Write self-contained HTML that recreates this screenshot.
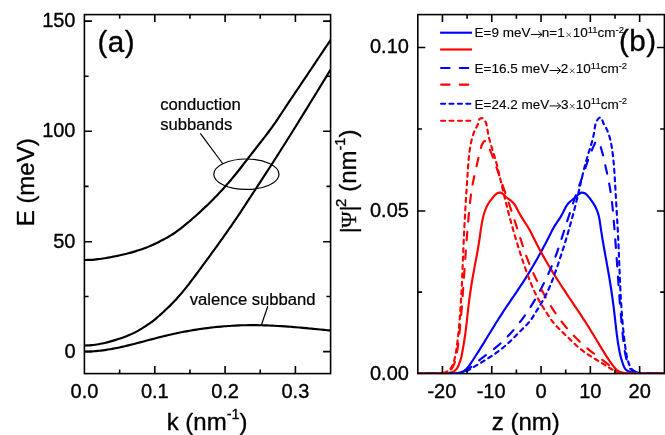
<!DOCTYPE html>
<html><head><meta charset="utf-8"><title>figure</title>
<style>
html,body{margin:0;padding:0;background:#fff;}
body{width:665px;height:435px;overflow:hidden;font-family:"Liberation Sans",sans-serif;}
svg{display:block;will-change:transform;}
text{stroke:#000;stroke-width:0.35px;stroke-linejoin:round;}
text.lg{stroke-width:0.12px;}
text.an{stroke-width:0.22px;}
</style></head><body>
<svg width="665" height="435" viewBox="0 0 665 435">
<rect width="665" height="435" fill="#fff"/>
<g id="pa">
<clipPath id="ca"><rect x="84.40" y="14.60" width="246.20" height="359.00"/></clipPath>
<path d="M15.42,244.66 C15.96,244.88 17.60,245.55 18.69,245.98 C19.79,246.41 20.89,246.84 21.99,247.25 C23.09,247.66 24.20,248.07 25.30,248.46 C26.41,248.86 27.52,249.24 28.64,249.62 C29.75,249.99 30.87,250.36 31.99,250.71 C33.11,251.07 34.24,251.42 35.36,251.76 C36.49,252.09 37.62,252.42 38.75,252.74 C39.88,253.06 41.02,253.37 42.15,253.66 C43.29,253.96 44.43,254.25 45.57,254.53 C46.72,254.81 47.86,255.08 49.01,255.34 C50.15,255.60 51.30,255.85 52.46,256.09 C53.61,256.34 54.76,256.57 55.92,256.79 C57.07,257.01 58.23,257.22 59.39,257.42 C60.55,257.62 61.71,257.82 62.88,258.00 C64.04,258.18 65.21,258.35 66.37,258.51 C67.54,258.68 68.71,258.83 69.88,258.97 C71.05,259.11 72.22,259.23 73.39,259.35 C74.57,259.46 75.74,259.56 76.91,259.64 C78.09,259.72 79.26,259.79 80.43,259.85 C81.61,259.90 82.78,259.93 83.96,259.95 C85.13,259.96 86.30,259.96 87.48,259.94 C88.65,259.92 89.82,259.88 91.00,259.81 C92.17,259.75 93.34,259.67 94.51,259.56 C95.68,259.46 96.84,259.33 98.01,259.19 C99.18,259.06 100.35,258.90 101.51,258.73 C102.68,258.56 103.84,258.38 105.00,258.19 C106.17,257.99 107.33,257.79 108.49,257.58 C109.65,257.37 110.81,257.15 111.97,256.93 C113.12,256.71 114.28,256.48 115.44,256.24 C116.59,256.00 117.75,255.76 118.90,255.51 C120.05,255.26 121.20,255.01 122.35,254.74 C123.49,254.47 124.64,254.20 125.78,253.92 C126.92,253.63 128.06,253.34 129.20,253.04 C130.33,252.74 131.47,252.43 132.60,252.10 C133.73,251.78 134.85,251.45 135.98,251.10 C137.10,250.76 138.22,250.40 139.33,250.04 C140.45,249.67 141.56,249.29 142.66,248.89 C143.77,248.50 144.87,248.10 145.97,247.68 C147.07,247.26 148.16,246.82 149.24,246.37 C150.33,245.93 151.41,245.46 152.49,244.99 C153.56,244.51 154.63,244.01 155.70,243.51 C156.76,243.00 157.82,242.48 158.88,241.94 C159.93,241.41 160.98,240.87 162.02,240.32 C163.06,239.77 164.10,239.21 165.13,238.65 C166.17,238.09 167.20,237.53 168.21,236.95 C169.23,236.37 170.25,235.78 171.24,235.17 C172.24,234.55 173.22,233.90 174.20,233.24 C175.17,232.58 176.12,231.88 177.08,231.19 C178.03,230.49 178.97,229.78 179.90,229.06 C180.84,228.35 181.77,227.62 182.69,226.89 C183.61,226.16 184.53,225.42 185.44,224.68 C186.35,223.93 187.25,223.18 188.15,222.43 C189.05,221.67 189.94,220.91 190.83,220.14 C191.72,219.37 192.61,218.60 193.49,217.82 C194.37,217.04 195.25,216.26 196.13,215.48 C197.00,214.69 197.87,213.90 198.74,213.11 C199.61,212.32 200.48,211.52 201.34,210.73 C202.21,209.93 203.07,209.12 203.92,208.32 C204.78,207.51 205.64,206.70 206.49,205.88 C207.34,205.07 208.18,204.25 209.02,203.43 C209.87,202.60 210.71,201.78 211.54,200.95 C212.38,200.12 213.21,199.28 214.03,198.44 C214.86,197.61 215.68,196.76 216.50,195.92 C217.32,195.07 218.13,194.22 218.94,193.36 C219.75,192.51 220.55,191.65 221.35,190.79 C222.15,189.92 222.95,189.05 223.74,188.18 C224.53,187.31 225.31,186.43 226.09,185.55 C226.87,184.67 227.65,183.79 228.42,182.90 C229.19,182.01 229.95,181.11 230.71,180.21 C231.47,179.32 232.22,178.41 232.97,177.51 C233.72,176.60 234.46,175.69 235.20,174.77 C235.94,173.86 236.68,172.94 237.41,172.02 C238.14,171.10 238.87,170.18 239.60,169.25 C240.33,168.33 241.05,167.40 241.77,166.47 C242.50,165.55 243.22,164.62 243.94,163.69 C244.66,162.76 245.38,161.83 246.10,160.89 C246.82,159.96 247.54,159.03 248.26,158.10 C248.98,157.17 249.71,156.24 250.43,155.31 C251.15,154.39 251.88,153.46 252.60,152.53 C253.33,151.60 254.05,150.67 254.78,149.75 C255.50,148.82 256.23,147.89 256.95,146.96 C257.67,146.04 258.40,145.11 259.12,144.18 C259.84,143.25 260.57,142.32 261.29,141.39 C262.01,140.46 262.73,139.53 263.45,138.60 C264.16,137.66 264.88,136.73 265.59,135.80 C266.31,134.86 267.02,133.92 267.73,132.98 C268.43,132.05 269.14,131.10 269.84,130.16 C270.54,129.21 271.23,128.27 271.92,127.31 C272.61,126.36 273.30,125.41 273.98,124.45 C274.66,123.49 275.33,122.52 275.99,121.55 C276.66,120.58 277.32,119.60 277.97,118.63 C278.63,117.65 279.28,116.67 279.93,115.68 C280.57,114.70 281.22,113.72 281.86,112.73 C282.51,111.75 283.15,110.76 283.80,109.77 C284.44,108.79 285.09,107.80 285.73,106.82 C286.38,105.84 287.03,104.86 287.68,103.88 C288.34,102.90 288.99,101.92 289.65,100.94 C290.30,99.96 290.96,98.98 291.61,98.01 C292.27,97.03 292.93,96.06 293.59,95.08 C294.25,94.11 294.91,93.13 295.57,92.16 C296.23,91.18 296.89,90.21 297.55,89.24 C298.21,88.26 298.87,87.29 299.53,86.31 C300.18,85.34 300.84,84.36 301.50,83.39 C302.16,82.41 302.82,81.43 303.47,80.46 C304.13,79.48 304.79,78.50 305.44,77.53 C306.10,76.55 306.75,75.57 307.41,74.59 C308.06,73.62 308.72,72.64 309.37,71.66 C310.03,70.68 310.68,69.70 311.34,68.73 C311.99,67.75 312.65,66.77 313.30,65.79 C313.95,64.81 314.61,63.83 315.26,62.86 C315.92,61.88 316.57,60.90 317.23,59.92 C317.88,58.94 318.53,57.96 319.19,56.99 C319.84,56.01 320.50,55.03 321.15,54.05 C321.81,53.07 322.46,52.10 323.12,51.12 C323.77,50.14 324.43,49.16 325.09,48.19 C325.74,47.21 326.40,46.23 327.06,45.26 C327.72,44.28 328.37,43.31 329.03,42.33 C329.69,41.36 330.68,39.89 331.01,39.41" fill="none" stroke="#000" stroke-width="2.15" clip-path="url(#ca)"/>
<path d="M15.40,320.80 C15.91,321.11 17.42,322.02 18.42,322.66 C19.42,323.30 20.40,323.96 21.38,324.62 C22.37,325.28 23.35,325.96 24.33,326.61 C25.32,327.27 26.30,327.94 27.30,328.57 C28.30,329.21 29.30,329.83 30.32,330.42 C31.34,331.02 32.37,331.59 33.42,332.14 C34.46,332.68 35.53,333.19 36.60,333.69 C37.67,334.18 38.76,334.64 39.85,335.10 C40.94,335.56 42.04,336.00 43.14,336.42 C44.24,336.85 45.35,337.27 46.46,337.67 C47.58,338.07 48.69,338.46 49.82,338.83 C50.94,339.21 52.07,339.57 53.20,339.92 C54.33,340.27 55.46,340.60 56.60,340.93 C57.74,341.25 58.88,341.56 60.03,341.86 C61.17,342.16 62.32,342.45 63.47,342.72 C64.63,343.00 65.78,343.26 66.94,343.51 C68.09,343.76 69.25,343.99 70.42,344.20 C71.58,344.42 72.75,344.61 73.92,344.78 C75.08,344.95 76.26,345.09 77.43,345.20 C78.61,345.32 79.79,345.40 80.97,345.46 C82.15,345.51 83.33,345.54 84.52,345.53 C85.70,345.53 86.88,345.50 88.06,345.44 C89.25,345.38 90.43,345.30 91.60,345.18 C92.78,345.07 93.95,344.93 95.12,344.77 C96.30,344.60 97.46,344.41 98.63,344.21 C99.79,344.00 100.95,343.77 102.11,343.52 C103.27,343.28 104.42,343.01 105.57,342.73 C106.72,342.46 107.87,342.16 109.01,341.85 C110.16,341.55 111.30,341.23 112.44,340.90 C113.57,340.58 114.71,340.24 115.84,339.89 C116.97,339.54 118.09,339.18 119.21,338.81 C120.34,338.43 121.45,338.05 122.57,337.65 C123.68,337.25 124.79,336.84 125.89,336.41 C126.99,335.99 128.09,335.55 129.18,335.09 C130.27,334.63 131.35,334.15 132.42,333.65 C133.49,333.15 134.55,332.63 135.60,332.09 C136.65,331.55 137.69,330.98 138.72,330.40 C139.74,329.81 140.76,329.21 141.77,328.59 C142.78,327.97 143.78,327.33 144.77,326.69 C145.77,326.04 146.75,325.38 147.73,324.72 C148.71,324.05 149.68,323.38 150.64,322.69 C151.59,321.99 152.54,321.29 153.47,320.57 C154.40,319.84 155.31,319.09 156.22,318.33 C157.12,317.58 158.01,316.80 158.90,316.02 C159.79,315.24 160.67,314.45 161.55,313.66 C162.43,312.87 163.31,312.07 164.18,311.27 C165.05,310.47 165.91,309.66 166.77,308.84 C167.63,308.02 168.48,307.20 169.33,306.37 C170.17,305.54 171.01,304.70 171.84,303.86 C172.67,303.01 173.49,302.16 174.30,301.30 C175.11,300.44 175.91,299.57 176.71,298.70 C177.50,297.82 178.29,296.94 179.07,296.05 C179.85,295.16 180.62,294.26 181.39,293.36 C182.15,292.46 182.91,291.55 183.66,290.64 C184.41,289.72 185.15,288.80 185.89,287.88 C186.63,286.95 187.36,286.02 188.09,285.09 C188.81,284.15 189.53,283.21 190.25,282.27 C190.97,281.33 191.68,280.39 192.40,279.44 C193.11,278.50 193.82,277.55 194.52,276.60 C195.23,275.65 195.93,274.70 196.64,273.74 C197.34,272.79 198.05,271.84 198.75,270.89 C199.45,269.94 200.16,268.98 200.86,268.03 C201.56,267.08 202.26,266.13 202.97,265.17 C203.67,264.22 204.37,263.27 205.07,262.31 C205.77,261.36 206.47,260.40 207.17,259.45 C207.87,258.49 208.57,257.54 209.27,256.58 C209.96,255.63 210.66,254.67 211.36,253.72 C212.05,252.76 212.75,251.80 213.45,250.84 C214.14,249.89 214.84,248.93 215.53,247.97 C216.22,247.01 216.92,246.05 217.61,245.09 C218.30,244.13 219.00,243.17 219.69,242.21 C220.38,241.25 221.07,240.29 221.76,239.33 C222.44,238.36 223.13,237.40 223.82,236.44 C224.50,235.47 225.19,234.51 225.87,233.54 C226.56,232.57 227.24,231.61 227.92,230.64 C228.60,229.67 229.28,228.70 229.95,227.73 C230.63,226.76 231.30,225.78 231.97,224.81 C232.65,223.83 233.32,222.86 233.98,221.88 C234.65,220.90 235.32,219.93 235.98,218.95 C236.64,217.97 237.30,216.98 237.96,216.00 C238.62,215.02 239.28,214.03 239.93,213.05 C240.59,212.06 241.24,211.07 241.89,210.09 C242.54,209.10 243.19,208.11 243.84,207.12 C244.49,206.13 245.14,205.14 245.79,204.15 C246.44,203.16 247.08,202.17 247.73,201.18 C248.38,200.19 249.02,199.19 249.67,198.20 C250.32,197.21 250.96,196.22 251.61,195.23 C252.25,194.24 252.90,193.24 253.55,192.25 C254.19,191.26 254.84,190.27 255.49,189.28 C256.14,188.29 256.79,187.30 257.43,186.31 C258.08,185.32 258.73,184.33 259.38,183.34 C260.03,182.35 260.67,181.36 261.32,180.37 C261.97,179.38 262.62,178.39 263.26,177.39 C263.91,176.40 264.56,175.41 265.20,174.42 C265.85,173.43 266.50,172.44 267.14,171.44 C267.78,170.45 268.43,169.46 269.07,168.46 C269.71,167.47 270.36,166.48 271.00,165.48 C271.64,164.49 272.28,163.49 272.92,162.50 C273.56,161.50 274.20,160.50 274.83,159.51 C275.47,158.51 276.11,157.51 276.75,156.51 C277.38,155.52 278.02,154.52 278.65,153.52 C279.29,152.52 279.92,151.52 280.56,150.52 C281.19,149.52 281.82,148.52 282.46,147.52 C283.09,146.52 283.72,145.52 284.35,144.52 C284.98,143.52 285.61,142.52 286.24,141.52 C286.87,140.51 287.50,139.51 288.13,138.51 C288.76,137.51 289.39,136.50 290.02,135.50 C290.65,134.50 291.27,133.49 291.90,132.49 C292.53,131.49 293.15,130.48 293.78,129.48 C294.40,128.47 295.03,127.47 295.66,126.46 C296.28,125.46 296.90,124.45 297.53,123.45 C298.15,122.44 298.78,121.44 299.40,120.43 C300.02,119.42 300.65,118.42 301.27,117.41 C301.89,116.40 302.51,115.40 303.14,114.39 C303.76,113.38 304.38,112.38 305.00,111.37 C305.62,110.36 306.24,109.35 306.86,108.35 C307.48,107.34 308.10,106.33 308.72,105.32 C309.34,104.31 309.96,103.31 310.58,102.30 C311.20,101.29 311.82,100.28 312.44,99.27 C313.06,98.26 313.68,97.25 314.30,96.25 C314.92,95.24 315.54,94.23 316.16,93.22 C316.78,92.21 317.40,91.20 318.01,90.19 C318.63,89.18 319.25,88.17 319.87,87.16 C320.49,86.16 321.11,85.15 321.72,84.14 C322.34,83.13 322.96,82.12 323.58,81.11 C324.20,80.10 324.82,79.09 325.43,78.08 C326.05,77.07 326.67,76.06 327.29,75.05 C327.91,74.05 328.53,73.04 329.14,72.03 C329.76,71.02 330.69,69.50 331.00,69.00" fill="none" stroke="#000" stroke-width="2.15" clip-path="url(#ca)"/>
<path d="M15.45,338.85 C16.02,338.99 17.72,339.42 18.86,339.72 C20.00,340.01 21.14,340.31 22.28,340.61 C23.42,340.91 24.56,341.21 25.70,341.51 C26.85,341.81 27.99,342.12 29.14,342.42 C30.28,342.72 31.43,343.02 32.57,343.32 C33.72,343.62 34.87,343.92 36.02,344.22 C37.17,344.51 38.32,344.80 39.48,345.09 C40.63,345.37 41.78,345.66 42.94,345.93 C44.10,346.21 45.25,346.48 46.41,346.74 C47.57,347.00 48.73,347.26 49.90,347.50 C51.06,347.75 52.22,347.99 53.39,348.21 C54.56,348.44 55.72,348.66 56.89,348.86 C58.06,349.07 59.23,349.27 60.40,349.45 C61.58,349.64 62.75,349.81 63.92,349.98 C65.10,350.14 66.27,350.29 67.45,350.43 C68.62,350.57 69.80,350.69 70.98,350.81 C72.16,350.92 73.33,351.02 74.51,351.11 C75.69,351.19 76.87,351.27 78.05,351.33 C79.23,351.39 80.41,351.43 81.58,351.46 C82.76,351.49 83.94,351.51 85.12,351.51 C86.30,351.51 87.48,351.49 88.66,351.46 C89.83,351.43 91.01,351.38 92.19,351.32 C93.37,351.25 94.54,351.17 95.72,351.08 C96.89,350.98 98.07,350.87 99.24,350.75 C100.42,350.63 101.59,350.49 102.76,350.34 C103.93,350.18 105.10,350.02 106.27,349.84 C107.45,349.67 108.61,349.48 109.78,349.28 C110.95,349.08 112.12,348.87 113.28,348.66 C114.45,348.44 115.62,348.21 116.78,347.97 C117.94,347.74 119.11,347.49 120.27,347.24 C121.43,346.98 122.59,346.72 123.75,346.46 C124.90,346.19 126.06,345.92 127.22,345.64 C128.37,345.36 129.52,345.08 130.68,344.79 C131.83,344.51 132.98,344.22 134.13,343.92 C135.28,343.63 136.43,343.33 137.58,343.03 C138.72,342.73 139.87,342.43 141.02,342.13 C142.16,341.82 143.31,341.52 144.45,341.21 C145.60,340.91 146.74,340.60 147.89,340.29 C149.03,339.99 150.18,339.68 151.32,339.38 C152.47,339.08 153.61,338.77 154.76,338.47 C155.90,338.17 157.05,337.87 158.20,337.58 C159.34,337.29 160.49,336.99 161.64,336.70 C162.79,336.42 163.94,336.13 165.09,335.85 C166.24,335.58 167.39,335.30 168.54,335.03 C169.69,334.76 170.85,334.50 172.00,334.24 C173.16,333.98 174.32,333.73 175.47,333.48 C176.63,333.23 177.79,332.99 178.95,332.75 C180.11,332.52 181.27,332.28 182.43,332.06 C183.60,331.83 184.76,331.61 185.92,331.39 C187.09,331.18 188.25,330.97 189.42,330.76 C190.59,330.56 191.75,330.36 192.92,330.16 C194.09,329.97 195.26,329.78 196.43,329.59 C197.60,329.41 198.77,329.23 199.94,329.06 C201.11,328.89 202.29,328.72 203.46,328.56 C204.63,328.40 205.81,328.24 206.98,328.09 C208.15,327.94 209.33,327.79 210.51,327.65 C211.68,327.52 212.86,327.38 214.04,327.25 C215.21,327.13 216.39,327.00 217.57,326.89 C218.75,326.77 219.93,326.66 221.11,326.56 C222.28,326.45 223.46,326.35 224.64,326.26 C225.82,326.16 227.01,326.08 228.19,326.00 C229.37,325.91 230.55,325.84 231.73,325.77 C232.91,325.70 234.09,325.63 235.28,325.58 C236.46,325.52 237.64,325.46 238.83,325.42 C240.01,325.37 241.19,325.33 242.37,325.30 C243.56,325.26 244.74,325.23 245.93,325.21 C247.11,325.19 248.29,325.17 249.48,325.16 C250.66,325.15 251.85,325.15 253.03,325.15 C254.21,325.15 255.40,325.16 256.58,325.17 C257.77,325.19 258.95,325.21 260.13,325.23 C261.32,325.25 262.50,325.28 263.69,325.32 C264.87,325.35 266.05,325.39 267.24,325.44 C268.42,325.48 269.61,325.53 270.79,325.58 C271.97,325.63 273.16,325.69 274.34,325.75 C275.53,325.81 276.71,325.88 277.89,325.95 C279.08,326.02 280.26,326.09 281.44,326.16 C282.63,326.24 283.81,326.32 284.99,326.40 C286.18,326.49 287.36,326.57 288.54,326.66 C289.72,326.75 290.91,326.84 292.09,326.93 C293.27,327.03 294.45,327.12 295.63,327.22 C296.82,327.32 298.00,327.42 299.18,327.52 C300.36,327.63 301.54,327.73 302.72,327.84 C303.90,327.94 305.08,328.05 306.26,328.16 C307.44,328.27 308.62,328.38 309.80,328.49 C310.98,328.60 312.16,328.72 313.34,328.83 C314.52,328.94 315.69,329.06 316.87,329.17 C318.05,329.28 319.23,329.40 320.40,329.51 C321.58,329.63 322.76,329.74 323.93,329.86 C325.11,329.97 326.28,330.08 327.46,330.20 C328.64,330.31 330.40,330.48 330.98,330.54" fill="none" stroke="#000" stroke-width="2.15" clip-path="url(#ca)"/>
<ellipse cx="246.4" cy="174.2" rx="32.6" ry="15.2" fill="none" stroke="#000" stroke-width="1.2"/>
<path d="M200.3,133.3 L223.0,164.0" stroke="#000" stroke-width="1.2" fill="none"/>
<path d="M267.8,306.2 L261.3,325.2" stroke="#000" stroke-width="1.2" fill="none"/>
<path d="M154.80,373.60 v-7.50 M154.80,14.60 v7.50" stroke="#000" stroke-width="1.60" fill="none"/>
<path d="M225.10,373.60 v-7.50 M225.10,14.60 v7.50" stroke="#000" stroke-width="1.60" fill="none"/>
<path d="M295.40,373.60 v-7.50 M295.40,14.60 v7.50" stroke="#000" stroke-width="1.60" fill="none"/>
<path d="M119.65,373.60 v-4.20 M119.65,14.60 v4.20" stroke="#000" stroke-width="1.60" fill="none"/>
<path d="M189.95,373.60 v-4.20 M189.95,14.60 v4.20" stroke="#000" stroke-width="1.60" fill="none"/>
<path d="M260.25,373.60 v-4.20 M260.25,14.60 v4.20" stroke="#000" stroke-width="1.60" fill="none"/>
<path d="M84.40,351.60 h7.50 M330.60,351.60 h-7.50" stroke="#000" stroke-width="1.60" fill="none"/>
<path d="M84.40,241.75 h7.50 M330.60,241.75 h-7.50" stroke="#000" stroke-width="1.60" fill="none"/>
<path d="M84.40,131.30 h7.50 M330.60,131.30 h-7.50" stroke="#000" stroke-width="1.60" fill="none"/>
<path d="M84.40,21.15 h7.50 M330.60,21.15 h-7.50" stroke="#000" stroke-width="1.60" fill="none"/>
<path d="M84.40,296.53 h4.20 M330.60,296.53 h-4.20" stroke="#000" stroke-width="1.60" fill="none"/>
<path d="M84.40,186.38 h4.20 M330.60,186.38 h-4.20" stroke="#000" stroke-width="1.60" fill="none"/>
<path d="M84.40,76.23 h4.20 M330.60,76.23 h-4.20" stroke="#000" stroke-width="1.60" fill="none"/>
<rect x="84.40" y="14.60" width="246.20" height="359.00" fill="none" stroke="#000" stroke-width="1.60"/>
<text x="84.50" y="398.3" text-anchor="middle" font-family="Liberation Sans, sans-serif" font-size="20">0.0</text>
<text x="154.80" y="398.3" text-anchor="middle" font-family="Liberation Sans, sans-serif" font-size="20">0.1</text>
<text x="225.10" y="398.3" text-anchor="middle" font-family="Liberation Sans, sans-serif" font-size="20">0.2</text>
<text x="295.40" y="398.3" text-anchor="middle" font-family="Liberation Sans, sans-serif" font-size="20">0.3</text>
<text x="75.5" y="357.80" text-anchor="end" font-family="Liberation Sans, sans-serif" font-size="20">0</text>
<text x="75.5" y="247.75" text-anchor="end" font-family="Liberation Sans, sans-serif" font-size="20">50</text>
<text x="75.5" y="136.90" text-anchor="end" font-family="Liberation Sans, sans-serif" font-size="20">100</text>
<text x="75.5" y="26.95" text-anchor="end" font-family="Liberation Sans, sans-serif" font-size="20">150</text>
<text x="166.7" y="430.3" font-family="Liberation Sans, sans-serif" font-size="24">k (nm<tspan dy="-11" font-size="14.5">-1</tspan><tspan dy="11">)</tspan></text>
<text transform="translate(34.2,182.3) rotate(-90)" text-anchor="middle" font-family="Liberation Sans, sans-serif" font-size="24">E (meV)</text>
<text x="160.2" y="109.8" font-family="Liberation Sans, sans-serif" font-size="16.65" class="an">conduction</text>
<text x="160.2" y="129.5" font-family="Liberation Sans, sans-serif" font-size="16.65" class="an">subbands</text>
<text x="189.8" y="304.7" font-family="Liberation Sans, sans-serif" font-size="16.65" class="an">valence subband</text>
<text x="97.5" y="52" font-family="Liberation Sans, sans-serif" font-size="29.6" letter-spacing="0.5">(a)</text>
</g>
<g id="pb">
<clipPath id="cb"><rect x="417.80" y="14.60" width="246.60" height="358.55"/></clipPath>
<path d="M418.00,373.50 C418.59,373.50 420.35,373.52 421.53,373.52 C422.70,373.52 423.88,373.51 425.06,373.51 C426.23,373.50 427.41,373.49 428.59,373.48 C429.77,373.46 430.94,373.45 432.12,373.44 C433.30,373.43 434.48,373.42 435.65,373.41 C436.83,373.41 438.01,373.40 439.19,373.40 C440.36,373.40 441.54,373.41 442.71,373.42 C443.89,373.43 445.06,373.45 446.24,373.46 C447.41,373.47 448.59,373.48 449.76,373.46 C450.94,373.44 452.11,373.41 453.29,373.34 C454.47,373.28 455.65,373.20 456.83,373.05 C458.00,372.91 459.22,372.78 460.35,372.48 C461.48,372.19 462.61,371.83 463.61,371.26 C464.61,370.69 465.51,369.90 466.36,369.07 C467.20,368.25 467.95,367.26 468.68,366.31 C469.42,365.37 470.08,364.38 470.74,363.40 C471.41,362.43 472.03,361.45 472.67,360.46 C473.31,359.48 473.94,358.49 474.58,357.51 C475.21,356.52 475.85,355.53 476.48,354.54 C477.11,353.55 477.74,352.56 478.37,351.56 C479.00,350.57 479.63,349.57 480.26,348.57 C480.88,347.58 481.51,346.58 482.13,345.58 C482.75,344.58 483.37,343.58 483.99,342.57 C484.60,341.57 485.22,340.57 485.84,339.56 C486.45,338.56 487.06,337.56 487.68,336.55 C488.29,335.55 488.91,334.54 489.52,333.54 C490.13,332.53 490.75,331.53 491.36,330.53 C491.98,329.52 492.59,328.52 493.21,327.52 C493.82,326.52 494.44,325.52 495.06,324.52 C495.68,323.52 496.30,322.52 496.93,321.52 C497.55,320.52 498.18,319.53 498.81,318.53 C499.44,317.54 500.07,316.55 500.71,315.56 C501.34,314.57 501.98,313.58 502.63,312.60 C503.27,311.62 503.92,310.63 504.57,309.66 C505.22,308.68 505.88,307.70 506.54,306.72 C507.19,305.75 507.85,304.77 508.51,303.80 C509.17,302.82 509.84,301.85 510.50,300.88 C511.16,299.91 511.83,298.94 512.49,297.96 C513.15,296.99 513.82,296.02 514.48,295.05 C515.14,294.07 515.80,293.10 516.46,292.12 C517.12,291.15 517.78,290.17 518.43,289.20 C519.09,288.22 519.74,287.24 520.39,286.26 C521.04,285.27 521.68,284.29 522.32,283.30 C522.96,282.31 523.60,281.32 524.23,280.33 C524.86,279.34 525.49,278.35 526.12,277.35 C526.74,276.35 527.37,275.35 527.98,274.35 C528.60,273.35 529.22,272.35 529.83,271.34 C530.44,270.34 531.04,269.33 531.65,268.32 C532.25,267.31 532.85,266.29 533.45,265.28 C534.04,264.26 534.63,263.25 535.22,262.23 C535.81,261.21 536.39,260.19 536.97,259.16 C537.55,258.14 538.13,257.11 538.70,256.09 C539.28,255.06 539.84,254.03 540.41,253.00 C540.98,251.97 541.54,250.93 542.09,249.90 C542.65,248.86 543.21,247.82 543.76,246.78 C544.31,245.75 544.86,244.70 545.40,243.66 C545.95,242.62 546.49,241.57 547.03,240.53 C547.57,239.48 548.11,238.44 548.64,237.39 C549.18,236.34 549.71,235.29 550.25,234.24 C550.78,233.19 551.30,232.13 551.84,231.09 C552.38,230.04 552.92,229.00 553.49,227.97 C554.07,226.94 554.66,225.93 555.28,224.93 C555.90,223.94 556.58,222.97 557.24,221.99 C557.90,221.02 558.59,220.06 559.23,219.08 C559.88,218.09 560.52,217.11 561.11,216.10 C561.71,215.09 562.28,214.06 562.82,213.01 C563.36,211.96 563.84,210.87 564.36,209.81 C564.89,208.75 565.38,207.66 565.99,206.66 C566.60,205.65 567.26,204.67 568.01,203.77 C568.76,202.87 569.60,202.03 570.46,201.25 C571.33,200.47 572.28,199.82 573.20,199.11 C574.11,198.40 575.06,197.76 575.94,196.97 C576.82,196.18 577.55,195.09 578.48,194.36 C579.40,193.64 580.44,192.82 581.50,192.62 C582.55,192.43 583.82,192.72 584.81,193.20 C585.79,193.68 586.58,194.66 587.40,195.50 C588.22,196.34 588.97,197.32 589.72,198.26 C590.46,199.21 591.19,200.16 591.87,201.14 C592.56,202.12 593.21,203.11 593.83,204.13 C594.44,205.14 595.02,206.17 595.55,207.22 C596.08,208.27 596.58,209.33 597.01,210.41 C597.45,211.50 597.84,212.60 598.18,213.71 C598.52,214.83 598.79,215.96 599.04,217.11 C599.29,218.25 599.49,219.41 599.69,220.57 C599.88,221.73 600.04,222.90 600.21,224.07 C600.38,225.24 600.53,226.41 600.70,227.58 C600.87,228.75 601.04,229.92 601.22,231.08 C601.40,232.25 601.58,233.41 601.77,234.58 C601.95,235.74 602.14,236.91 602.33,238.07 C602.52,239.23 602.72,240.39 602.91,241.55 C603.11,242.71 603.31,243.87 603.51,245.03 C603.72,246.19 603.92,247.35 604.12,248.51 C604.33,249.67 604.54,250.83 604.74,251.98 C604.95,253.14 605.16,254.30 605.37,255.46 C605.58,256.61 605.79,257.77 606.00,258.93 C606.21,260.08 606.42,261.24 606.63,262.40 C606.84,263.55 607.05,264.71 607.25,265.87 C607.46,267.02 607.67,268.18 607.87,269.34 C608.08,270.50 608.28,271.66 608.48,272.81 C608.68,273.97 608.88,275.13 609.08,276.29 C609.28,277.45 609.47,278.61 609.66,279.77 C609.85,280.93 610.04,282.09 610.23,283.26 C610.41,284.42 610.60,285.58 610.78,286.74 C610.96,287.91 611.13,289.07 611.31,290.24 C611.48,291.40 611.65,292.56 611.82,293.73 C611.99,294.89 612.15,296.06 612.32,297.23 C612.48,298.39 612.64,299.56 612.80,300.73 C612.95,301.89 613.11,303.06 613.26,304.23 C613.41,305.39 613.56,306.56 613.71,307.73 C613.85,308.90 614.00,310.06 614.14,311.23 C614.28,312.40 614.42,313.57 614.55,314.74 C614.69,315.90 614.82,317.07 614.95,318.24 C615.08,319.41 615.21,320.58 615.34,321.75 C615.47,322.91 615.60,324.08 615.74,325.25 C615.87,326.42 616.00,327.59 616.14,328.75 C616.27,329.92 616.41,331.09 616.55,332.26 C616.70,333.42 616.84,334.59 617.00,335.76 C617.15,336.92 617.31,338.09 617.47,339.26 C617.64,340.42 617.81,341.59 617.99,342.75 C618.17,343.92 618.35,345.08 618.55,346.25 C618.75,347.41 618.95,348.58 619.18,349.74 C619.40,350.90 619.63,352.05 619.88,353.20 C620.14,354.35 620.40,355.50 620.70,356.63 C620.99,357.76 621.30,358.89 621.64,360.00 C621.97,361.12 622.33,362.20 622.73,363.32 C623.12,364.43 623.47,365.63 624.00,366.68 C624.53,367.74 625.10,368.82 625.90,369.64 C626.70,370.45 627.76,371.05 628.82,371.56 C629.88,372.06 631.10,372.39 632.26,372.67 C633.41,372.95 634.60,373.12 635.77,373.26 C636.94,373.39 638.11,373.44 639.29,373.48 C640.46,373.52 641.64,373.49 642.82,373.48 C644.00,373.46 645.17,373.41 646.35,373.39 C647.53,373.37 648.70,373.36 649.88,373.37 C651.06,373.37 652.23,373.40 653.41,373.43 C654.59,373.45 655.76,373.49 656.94,373.51 C658.12,373.53 659.29,373.56 660.47,373.56 C661.65,373.56 663.41,373.51 664.00,373.50" fill="none" stroke="#0000ff" stroke-width="2.15" clip-path="url(#cb)"/>
<path d="M418.00,373.50 C418.59,373.50 420.35,373.48 421.53,373.48 C422.71,373.47 423.88,373.47 425.06,373.46 C426.24,373.46 427.41,373.46 428.59,373.46 C429.77,373.45 430.94,373.45 432.12,373.45 C433.30,373.45 434.47,373.44 435.65,373.44 C436.83,373.43 438.00,373.43 439.18,373.42 C440.35,373.41 441.53,373.41 442.71,373.38 C443.88,373.35 445.06,373.35 446.23,373.25 C447.41,373.14 448.59,373.02 449.75,372.75 C450.92,372.47 452.15,372.12 453.21,371.60 C454.27,371.07 455.32,370.42 456.10,369.60 C456.89,368.77 457.40,367.69 457.93,366.65 C458.46,365.61 458.84,364.44 459.27,363.34 C459.71,362.24 460.17,361.16 460.52,360.05 C460.88,358.93 461.15,357.79 461.41,356.65 C461.67,355.50 461.86,354.34 462.08,353.18 C462.30,352.02 462.51,350.86 462.72,349.70 C462.93,348.54 463.13,347.38 463.33,346.22 C463.54,345.06 463.73,343.90 463.93,342.74 C464.12,341.58 464.31,340.42 464.48,339.26 C464.66,338.09 464.84,336.93 465.00,335.77 C465.17,334.60 465.33,333.44 465.48,332.27 C465.64,331.10 465.78,329.94 465.93,328.77 C466.07,327.60 466.21,326.43 466.35,325.27 C466.49,324.10 466.62,322.93 466.75,321.76 C466.88,320.59 467.01,319.42 467.14,318.25 C467.27,317.08 467.40,315.91 467.52,314.74 C467.65,313.57 467.78,312.40 467.91,311.23 C468.04,310.06 468.17,308.89 468.30,307.72 C468.44,306.55 468.57,305.38 468.71,304.22 C468.85,303.05 468.99,301.88 469.14,300.71 C469.29,299.55 469.44,298.38 469.60,297.21 C469.76,296.05 469.92,294.88 470.09,293.72 C470.25,292.55 470.42,291.39 470.60,290.23 C470.78,289.06 470.96,287.90 471.14,286.74 C471.32,285.58 471.51,284.42 471.70,283.26 C471.89,282.09 472.09,280.93 472.28,279.77 C472.48,278.61 472.68,277.45 472.89,276.30 C473.09,275.14 473.30,273.98 473.51,272.82 C473.72,271.66 473.93,270.50 474.15,269.35 C474.36,268.19 474.58,267.03 474.80,265.88 C475.01,264.72 475.23,263.56 475.45,262.41 C475.67,261.25 475.89,260.09 476.10,258.93 C476.32,257.78 476.54,256.62 476.75,255.46 C476.96,254.30 477.17,253.15 477.38,251.99 C477.58,250.83 477.79,249.67 477.99,248.51 C478.19,247.35 478.38,246.19 478.57,245.03 C478.76,243.87 478.94,242.71 479.12,241.55 C479.30,240.38 479.47,239.22 479.63,238.05 C479.80,236.89 479.96,235.72 480.12,234.56 C480.28,233.39 480.44,232.23 480.61,231.06 C480.77,229.90 480.94,228.73 481.12,227.57 C481.30,226.41 481.49,225.25 481.69,224.09 C481.90,222.93 482.11,221.77 482.35,220.61 C482.59,219.46 482.84,218.30 483.13,217.16 C483.41,216.01 483.71,214.87 484.05,213.75 C484.39,212.62 484.76,211.50 485.17,210.41 C485.57,209.31 486.02,208.23 486.51,207.17 C487.00,206.11 487.53,205.07 488.11,204.06 C488.70,203.05 489.33,202.06 490.02,201.11 C490.71,200.15 491.48,199.24 492.24,198.31 C492.99,197.39 493.75,196.40 494.57,195.55 C495.39,194.69 496.17,193.65 497.17,193.17 C498.16,192.69 499.51,192.45 500.56,192.65 C501.61,192.84 502.55,193.62 503.46,194.33 C504.37,195.05 505.12,196.13 506.02,196.93 C506.91,197.73 507.90,198.43 508.83,199.15 C509.76,199.88 510.75,200.50 511.61,201.26 C512.47,202.03 513.26,202.84 513.97,203.73 C514.69,204.63 515.29,205.63 515.88,206.64 C516.48,207.66 517.00,208.74 517.55,209.80 C518.10,210.86 518.63,211.95 519.19,212.99 C519.76,214.04 520.36,215.07 520.96,216.08 C521.57,217.10 522.20,218.09 522.83,219.08 C523.46,220.08 524.11,221.06 524.75,222.04 C525.38,223.02 526.03,224.00 526.65,224.99 C527.27,225.98 527.89,226.97 528.49,227.98 C529.08,228.99 529.65,230.01 530.21,231.04 C530.76,232.08 531.29,233.13 531.82,234.18 C532.35,235.24 532.86,236.30 533.38,237.36 C533.90,238.42 534.43,239.47 534.95,240.53 C535.48,241.58 536.02,242.63 536.56,243.68 C537.10,244.73 537.64,245.77 538.19,246.81 C538.74,247.85 539.30,248.89 539.86,249.93 C540.42,250.97 540.98,252.00 541.55,253.03 C542.12,254.06 542.69,255.09 543.27,256.11 C543.85,257.14 544.43,258.16 545.01,259.18 C545.60,260.20 546.19,261.22 546.78,262.23 C547.38,263.25 547.97,264.26 548.57,265.27 C549.17,266.29 549.78,267.29 550.39,268.30 C551.00,269.31 551.61,270.31 552.22,271.32 C552.84,272.32 553.46,273.32 554.08,274.32 C554.70,275.32 555.32,276.31 555.95,277.31 C556.58,278.30 557.21,279.30 557.84,280.29 C558.47,281.28 559.11,282.27 559.74,283.26 C560.38,284.25 561.02,285.24 561.66,286.22 C562.31,287.21 562.95,288.19 563.60,289.17 C564.24,290.16 564.89,291.14 565.54,292.12 C566.19,293.10 566.84,294.08 567.50,295.06 C568.15,296.04 568.81,297.01 569.46,297.99 C570.12,298.97 570.77,299.94 571.43,300.92 C572.09,301.90 572.74,302.87 573.40,303.85 C574.06,304.82 574.72,305.80 575.37,306.78 C576.03,307.75 576.68,308.73 577.34,309.71 C577.99,310.69 578.65,311.66 579.30,312.64 C579.95,313.62 580.60,314.60 581.25,315.59 C581.89,316.57 582.54,317.55 583.18,318.54 C583.82,319.52 584.46,320.51 585.10,321.50 C585.74,322.49 586.37,323.48 587.00,324.48 C587.63,325.47 588.26,326.47 588.88,327.47 C589.50,328.47 590.12,329.47 590.73,330.47 C591.35,331.48 591.96,332.48 592.57,333.49 C593.18,334.50 593.79,335.50 594.40,336.51 C595.01,337.52 595.61,338.53 596.22,339.54 C596.83,340.55 597.43,341.56 598.04,342.57 C598.65,343.57 599.25,344.58 599.86,345.59 C600.47,346.59 601.08,347.60 601.70,348.60 C602.31,349.60 602.93,350.61 603.55,351.60 C604.16,352.60 604.79,353.60 605.41,354.59 C606.04,355.58 606.67,356.57 607.31,357.56 C607.95,358.54 608.60,359.52 609.26,360.49 C609.93,361.47 610.60,362.44 611.30,363.40 C612.00,364.36 612.71,365.32 613.45,366.25 C614.20,367.18 614.95,368.15 615.79,368.97 C616.62,369.80 617.49,370.59 618.45,371.19 C619.41,371.79 620.47,372.22 621.57,372.55 C622.67,372.88 623.86,373.05 625.05,373.18 C626.23,373.31 627.48,373.33 628.69,373.35 C629.91,373.38 631.14,373.35 632.32,373.35 C633.51,373.36 634.66,373.37 635.82,373.38 C636.98,373.40 638.11,373.42 639.27,373.44 C640.43,373.45 641.60,373.45 642.78,373.45 C643.96,373.46 645.15,373.45 646.34,373.45 C647.53,373.45 648.72,373.45 649.90,373.45 C651.08,373.45 652.25,373.46 653.42,373.46 C654.59,373.47 655.76,373.48 656.93,373.48 C658.11,373.49 659.28,373.49 660.45,373.50 C661.63,373.50 663.41,373.50 664.00,373.50" fill="none" stroke="#ff0000" stroke-width="2.15" clip-path="url(#cb)"/>
<path d="M418.00,373.50 C418.60,373.52 420.42,373.59 421.61,373.60 C422.81,373.62 423.98,373.60 425.15,373.59 C426.32,373.57 427.48,373.53 428.64,373.50 C429.80,373.47 430.95,373.43 432.11,373.40 C433.27,373.37 434.42,373.33 435.59,373.32 C436.75,373.30 437.92,373.29 439.10,373.31 C440.29,373.32 441.48,373.36 442.68,373.40 C443.88,373.44 445.10,373.51 446.31,373.55 C447.51,373.60 448.73,373.65 449.93,373.66 C451.13,373.66 452.34,373.66 453.52,373.60 C454.70,373.54 455.87,373.45 457.02,373.29 C458.17,373.12 459.30,372.91 460.40,372.61 C461.50,372.31 462.57,371.93 463.62,371.48 C464.66,371.03 465.68,370.49 466.68,369.91 C467.68,369.34 468.65,368.69 469.62,368.01 C470.58,367.34 471.53,366.61 472.47,365.88 C473.41,365.14 474.33,364.37 475.26,363.60 C476.19,362.83 477.10,362.04 478.03,361.28 C478.95,360.51 479.88,359.75 480.80,359.00 C481.73,358.26 482.67,357.54 483.60,356.83 C484.54,356.11 485.48,355.41 486.41,354.71 C487.35,354.01 488.29,353.32 489.22,352.62 C490.15,351.92 491.08,351.22 492.01,350.51 C492.93,349.80 493.85,349.08 494.76,348.34 C495.67,347.61 496.58,346.86 497.47,346.09 C498.36,345.33 499.25,344.55 500.13,343.76 C501.01,342.97 501.88,342.16 502.74,341.35 C503.60,340.54 504.45,339.71 505.29,338.87 C506.13,338.04 506.96,337.19 507.78,336.33 C508.60,335.48 509.42,334.61 510.22,333.74 C511.02,332.87 511.81,331.99 512.59,331.10 C513.37,330.22 514.14,329.32 514.90,328.42 C515.65,327.52 516.40,326.61 517.14,325.70 C517.88,324.79 518.61,323.87 519.33,322.94 C520.05,322.01 520.76,321.08 521.46,320.14 C522.16,319.20 522.86,318.25 523.54,317.30 C524.23,316.35 524.90,315.39 525.57,314.43 C526.24,313.46 526.91,312.49 527.56,311.52 C528.22,310.54 528.87,309.56 529.51,308.57 C530.15,307.58 530.78,306.59 531.41,305.59 C532.03,304.60 532.65,303.59 533.26,302.58 C533.87,301.58 534.48,300.56 535.08,299.54 C535.67,298.53 536.26,297.51 536.85,296.48 C537.43,295.45 538.01,294.42 538.58,293.39 C539.14,292.35 539.71,291.31 540.26,290.27 C540.82,289.23 541.37,288.18 541.91,287.14 C542.45,286.09 542.98,285.03 543.51,283.98 C544.04,282.92 544.56,281.86 545.07,280.80 C545.59,279.74 546.10,278.68 546.60,277.61 C547.10,276.55 547.59,275.48 548.08,274.41 C548.57,273.34 549.05,272.26 549.52,271.19 C550.00,270.11 550.46,269.03 550.93,267.95 C551.39,266.87 551.84,265.79 552.29,264.71 C552.73,263.62 553.17,262.53 553.60,261.44 C554.04,260.35 554.46,259.25 554.88,258.15 C555.29,257.05 555.70,255.95 556.11,254.85 C556.51,253.74 556.90,252.63 557.29,251.52 C557.68,250.41 558.07,249.29 558.45,248.18 C558.83,247.06 559.20,245.94 559.57,244.82 C559.94,243.70 560.31,242.58 560.67,241.45 C561.04,240.33 561.40,239.21 561.76,238.09 C562.12,236.96 562.48,235.84 562.85,234.72 C563.21,233.59 563.56,232.47 563.92,231.35 C564.28,230.22 564.64,229.10 565.00,227.98 C565.36,226.86 565.72,225.73 566.08,224.61 C566.44,223.49 566.80,222.37 567.16,221.25 C567.52,220.13 567.88,219.00 568.25,217.88 C568.61,216.76 568.97,215.64 569.34,214.53 C569.70,213.41 570.07,212.29 570.44,211.17 C570.81,210.05 571.17,208.93 571.55,207.82 C571.92,206.70 572.29,205.58 572.67,204.47 C573.04,203.35 573.42,202.24 573.80,201.12 C574.18,200.01 574.57,198.89 574.95,197.78 C575.34,196.67 575.73,195.55 576.11,194.44 C576.50,193.33 576.89,192.22 577.28,191.11 C577.67,190.00 578.06,188.88 578.46,187.77 C578.85,186.66 579.24,185.55 579.63,184.44 C580.03,183.33 580.42,182.22 580.81,181.10 C581.20,179.99 581.59,178.88 581.98,177.77 C582.37,176.65 582.76,175.54 583.15,174.43 C583.53,173.31 583.92,172.20 584.30,171.09 C584.69,169.97 585.07,168.86 585.45,167.74 C585.83,166.62 586.21,165.51 586.59,164.39 C586.98,163.28 587.36,162.16 587.75,161.05 C588.14,159.94 588.53,158.83 588.94,157.72 C589.34,156.61 589.75,155.51 590.18,154.41 C590.60,153.31 591.03,152.21 591.48,151.12 C591.93,150.02 592.39,148.94 592.87,147.86 C593.34,146.77 593.84,145.70 594.35,144.63 C594.87,143.56 595.31,141.98 595.95,141.45 C596.59,140.92 597.49,140.88 598.18,141.47 C598.87,142.05 599.59,143.81 600.07,144.94 C600.55,146.08 600.75,147.17 601.08,148.29 C601.40,149.41 601.72,150.53 602.03,151.66 C602.35,152.78 602.67,153.92 602.96,155.06 C603.25,156.20 603.52,157.35 603.79,158.50 C604.05,159.65 604.30,160.80 604.55,161.96 C604.81,163.11 605.06,164.26 605.32,165.41 C605.57,166.56 605.83,167.71 606.08,168.86 C606.34,170.01 606.59,171.16 606.84,172.31 C607.09,173.46 607.34,174.62 607.59,175.77 C607.83,176.92 608.07,178.07 608.31,179.23 C608.54,180.38 608.77,181.53 608.99,182.69 C609.21,183.85 609.43,185.00 609.64,186.16 C609.85,187.32 610.04,188.48 610.23,189.64 C610.42,190.80 610.60,191.96 610.78,193.13 C610.95,194.29 611.11,195.46 611.27,196.63 C611.43,197.79 611.58,198.96 611.72,200.13 C611.87,201.30 612.00,202.47 612.14,203.64 C612.27,204.81 612.39,205.98 612.52,207.16 C612.64,208.33 612.76,209.50 612.87,210.67 C612.98,211.85 613.09,213.02 613.20,214.20 C613.31,215.37 613.41,216.55 613.51,217.72 C613.62,218.90 613.72,220.07 613.81,221.25 C613.91,222.42 614.01,223.60 614.11,224.77 C614.21,225.95 614.30,227.12 614.40,228.30 C614.49,229.47 614.59,230.65 614.68,231.82 C614.77,233.00 614.87,234.17 614.96,235.35 C615.05,236.52 615.14,237.70 615.23,238.87 C615.32,240.05 615.41,241.22 615.50,242.40 C615.59,243.57 615.68,244.75 615.77,245.92 C615.85,247.10 615.94,248.27 616.03,249.45 C616.11,250.62 616.20,251.80 616.28,252.97 C616.37,254.15 616.45,255.32 616.54,256.50 C616.62,257.67 616.71,258.85 616.79,260.02 C616.87,261.20 616.96,262.37 617.04,263.55 C617.12,264.72 617.21,265.90 617.29,267.07 C617.37,268.25 617.45,269.42 617.53,270.60 C617.62,271.77 617.70,272.95 617.78,274.12 C617.86,275.30 617.95,276.47 618.03,277.65 C618.11,278.82 618.19,280.00 618.28,281.17 C618.36,282.35 618.44,283.52 618.53,284.70 C618.61,285.87 618.70,287.05 618.78,288.22 C618.87,289.40 618.95,290.57 619.04,291.75 C619.12,292.93 619.21,294.10 619.30,295.28 C619.39,296.45 619.47,297.63 619.56,298.80 C619.65,299.98 619.74,301.15 619.83,302.33 C619.93,303.50 620.02,304.68 620.11,305.85 C620.21,307.03 620.30,308.20 620.40,309.37 C620.49,310.55 620.59,311.72 620.69,312.90 C620.79,314.07 620.89,315.25 620.99,316.42 C621.09,317.60 621.20,318.77 621.30,319.95 C621.41,321.12 621.51,322.30 621.62,323.47 C621.73,324.64 621.84,325.82 621.95,326.99 C622.07,328.17 622.18,329.34 622.30,330.51 C622.41,331.69 622.53,332.86 622.65,334.04 C622.77,335.21 622.90,336.38 623.02,337.56 C623.15,338.73 623.27,339.91 623.40,341.08 C623.54,342.25 623.67,343.42 623.82,344.59 C623.96,345.76 624.11,346.93 624.28,348.10 C624.45,349.26 624.63,350.42 624.83,351.58 C625.03,352.73 625.25,353.89 625.49,355.03 C625.73,356.18 625.99,357.32 626.28,358.45 C626.57,359.58 626.88,360.69 627.22,361.82 C627.57,362.95 627.92,364.10 628.37,365.21 C628.82,366.32 629.23,367.55 629.91,368.48 C630.60,369.40 631.50,370.16 632.48,370.75 C633.46,371.35 634.67,371.71 635.80,372.05 C636.94,372.39 638.12,372.62 639.28,372.81 C640.45,373.01 641.62,373.12 642.79,373.22 C643.97,373.31 645.15,373.35 646.32,373.38 C647.50,373.41 648.68,373.41 649.86,373.41 C651.04,373.42 652.22,373.42 653.40,373.43 C654.57,373.44 655.75,373.46 656.93,373.47 C658.10,373.48 659.28,373.50 660.46,373.50 C661.64,373.51 663.41,373.50 664.00,373.50" fill="none" stroke="#0000ff" stroke-width="2.15" stroke-dasharray="8.5 10.2" stroke-linecap="round" stroke-dashoffset="9.76" clip-path="url(#cb)"/>
<path d="M418.00,373.50 C418.60,373.49 420.44,373.47 421.63,373.46 C422.82,373.45 423.98,373.46 425.14,373.46 C426.30,373.46 427.44,373.46 428.59,373.46 C429.74,373.46 430.88,373.46 432.04,373.44 C433.21,373.43 434.37,373.41 435.56,373.37 C436.76,373.33 437.98,373.30 439.20,373.21 C440.41,373.12 441.66,373.02 442.85,372.83 C444.03,372.63 445.22,372.40 446.31,372.03 C447.40,371.67 448.46,371.23 449.39,370.63 C450.32,370.02 451.16,369.29 451.87,368.41 C452.59,367.54 453.16,366.46 453.67,365.37 C454.18,364.28 454.57,363.05 454.93,361.89 C455.29,360.72 455.57,359.52 455.84,358.37 C456.10,357.21 456.32,356.08 456.53,354.94 C456.74,353.80 456.92,352.66 457.11,351.52 C457.29,350.37 457.46,349.22 457.63,348.07 C457.80,346.91 457.96,345.75 458.11,344.59 C458.26,343.43 458.41,342.26 458.55,341.09 C458.69,339.92 458.82,338.75 458.96,337.58 C459.09,336.40 459.21,335.23 459.34,334.05 C459.46,332.88 459.59,331.70 459.70,330.53 C459.82,329.35 459.94,328.18 460.06,327.00 C460.17,325.83 460.28,324.65 460.39,323.48 C460.50,322.30 460.61,321.13 460.72,319.95 C460.82,318.77 460.93,317.60 461.03,316.42 C461.13,315.25 461.23,314.07 461.33,312.90 C461.43,311.72 461.53,310.55 461.63,309.37 C461.72,308.20 461.82,307.02 461.91,305.85 C462.00,304.67 462.10,303.50 462.19,302.32 C462.28,301.15 462.37,299.97 462.46,298.80 C462.54,297.62 462.63,296.45 462.72,295.27 C462.80,294.10 462.89,292.92 462.98,291.75 C463.06,290.57 463.14,289.40 463.23,288.22 C463.31,287.05 463.39,285.87 463.48,284.70 C463.56,283.52 463.64,282.35 463.72,281.17 C463.80,280.00 463.88,278.82 463.97,277.65 C464.05,276.47 464.13,275.30 464.21,274.12 C464.29,272.95 464.37,271.77 464.45,270.60 C464.53,269.42 464.61,268.25 464.69,267.07 C464.77,265.90 464.85,264.72 464.94,263.55 C465.02,262.37 465.10,261.20 465.18,260.02 C465.27,258.85 465.35,257.67 465.43,256.50 C465.52,255.32 465.60,254.15 465.69,252.97 C465.77,251.79 465.86,250.62 465.94,249.44 C466.03,248.27 466.12,247.09 466.21,245.92 C466.30,244.74 466.39,243.57 466.48,242.39 C466.57,241.22 466.66,240.04 466.75,238.87 C466.84,237.69 466.94,236.52 467.03,235.34 C467.13,234.17 467.22,232.99 467.32,231.82 C467.41,230.64 467.51,229.47 467.61,228.29 C467.71,227.12 467.81,225.94 467.91,224.77 C468.01,223.59 468.11,222.42 468.22,221.25 C468.32,220.07 468.42,218.90 468.53,217.72 C468.64,216.55 468.74,215.38 468.85,214.20 C468.96,213.03 469.07,211.86 469.18,210.68 C469.30,209.51 469.41,208.34 469.53,207.17 C469.66,206.00 469.78,204.82 469.91,203.65 C470.04,202.48 470.17,201.31 470.31,200.14 C470.45,198.98 470.59,197.81 470.74,196.64 C470.90,195.47 471.05,194.31 471.22,193.14 C471.39,191.97 471.56,190.81 471.74,189.65 C471.92,188.48 472.11,187.32 472.31,186.16 C472.51,185.00 472.72,183.84 472.94,182.68 C473.16,181.52 473.39,180.36 473.63,179.21 C473.86,178.05 474.11,176.90 474.36,175.74 C474.61,174.59 474.86,173.44 475.12,172.29 C475.38,171.14 475.65,169.99 475.91,168.84 C476.18,167.69 476.45,166.54 476.72,165.40 C476.98,164.25 477.25,163.11 477.52,161.97 C477.79,160.82 478.06,159.68 478.32,158.54 C478.59,157.40 478.84,156.26 479.11,155.12 C479.37,153.98 479.62,152.84 479.91,151.70 C480.19,150.55 480.47,149.41 480.81,148.25 C481.15,147.10 481.44,145.91 481.96,144.77 C482.47,143.63 483.22,141.93 483.90,141.39 C484.58,140.86 485.41,141.00 486.02,141.55 C486.63,142.10 487.08,143.64 487.59,144.70 C488.09,145.75 488.58,146.82 489.06,147.89 C489.54,148.97 490.00,150.05 490.45,151.13 C490.90,152.21 491.34,153.31 491.78,154.40 C492.21,155.50 492.63,156.60 493.04,157.70 C493.46,158.80 493.86,159.91 494.26,161.02 C494.66,162.13 495.06,163.25 495.45,164.36 C495.84,165.47 496.22,166.59 496.61,167.71 C496.99,168.83 497.37,169.95 497.75,171.07 C498.13,172.18 498.51,173.30 498.89,174.42 C499.27,175.54 499.66,176.65 500.04,177.77 C500.43,178.89 500.81,180.00 501.20,181.11 C501.58,182.23 501.97,183.34 502.36,184.45 C502.75,185.57 503.14,186.68 503.52,187.79 C503.91,188.90 504.30,190.01 504.69,191.12 C505.08,192.24 505.47,193.35 505.85,194.46 C506.24,195.57 506.63,196.68 507.01,197.79 C507.40,198.90 507.78,200.02 508.16,201.13 C508.55,202.24 508.93,203.36 509.31,204.47 C509.68,205.58 510.06,206.70 510.44,207.82 C510.81,208.93 511.18,210.05 511.55,211.17 C511.93,212.28 512.29,213.40 512.66,214.52 C513.03,215.64 513.39,216.76 513.76,217.88 C514.12,219.00 514.49,220.12 514.85,221.24 C515.21,222.36 515.58,223.48 515.94,224.61 C516.30,225.73 516.66,226.85 517.02,227.97 C517.38,229.09 517.74,230.22 518.10,231.34 C518.46,232.46 518.82,233.58 519.19,234.71 C519.55,235.83 519.91,236.95 520.27,238.07 C520.63,239.20 521.00,240.32 521.36,241.44 C521.73,242.56 522.09,243.68 522.46,244.80 C522.83,245.92 523.20,247.04 523.57,248.16 C523.94,249.28 524.32,250.40 524.70,251.51 C525.08,252.63 525.47,253.74 525.87,254.85 C526.26,255.96 526.66,257.07 527.07,258.17 C527.48,259.27 527.90,260.37 528.33,261.47 C528.76,262.56 529.20,263.65 529.65,264.74 C530.10,265.83 530.56,266.91 531.02,267.99 C531.49,269.07 531.97,270.14 532.45,271.21 C532.93,272.29 533.43,273.35 533.92,274.42 C534.42,275.49 534.93,276.55 535.44,277.61 C535.95,278.67 536.46,279.73 536.98,280.79 C537.50,281.84 538.03,282.90 538.56,283.95 C539.09,285.00 539.63,286.05 540.17,287.10 C540.71,288.15 541.25,289.19 541.80,290.24 C542.36,291.28 542.91,292.32 543.48,293.35 C544.04,294.39 544.61,295.42 545.19,296.45 C545.76,297.48 546.34,298.50 546.93,299.52 C547.52,300.54 548.12,301.56 548.72,302.57 C549.33,303.58 549.94,304.59 550.56,305.59 C551.18,306.59 551.81,307.59 552.44,308.58 C553.08,309.57 553.72,310.56 554.37,311.53 C555.03,312.51 555.69,313.49 556.36,314.46 C557.03,315.42 557.71,316.38 558.40,317.34 C559.09,318.29 559.79,319.24 560.49,320.18 C561.20,321.12 561.92,322.05 562.65,322.98 C563.38,323.91 564.12,324.82 564.86,325.74 C565.61,326.65 566.37,327.55 567.14,328.45 C567.90,329.34 568.68,330.23 569.46,331.11 C570.25,331.99 571.04,332.86 571.85,333.72 C572.65,334.59 573.46,335.44 574.28,336.29 C575.10,337.13 575.93,337.97 576.77,338.80 C577.61,339.63 578.45,340.45 579.31,341.26 C580.16,342.07 581.03,342.87 581.90,343.67 C582.77,344.46 583.65,345.24 584.53,346.02 C585.42,346.79 586.31,347.56 587.21,348.31 C588.12,349.07 589.03,349.81 589.94,350.55 C590.86,351.28 591.78,352.01 592.72,352.72 C593.65,353.44 594.59,354.14 595.53,354.85 C596.47,355.55 597.42,356.24 598.36,356.94 C599.31,357.64 600.26,358.33 601.21,359.04 C602.16,359.74 603.10,360.44 604.04,361.16 C604.99,361.88 605.93,362.60 606.86,363.35 C607.79,364.09 608.71,364.86 609.63,365.62 C610.55,366.38 611.46,367.18 612.39,367.91 C613.32,368.64 614.25,369.38 615.23,370.02 C616.20,370.65 617.19,371.25 618.23,371.72 C619.28,372.18 620.38,372.54 621.51,372.80 C622.65,373.05 623.86,373.15 625.05,373.25 C626.24,373.35 627.46,373.36 628.65,373.40 C629.85,373.44 631.04,373.46 632.22,373.47 C633.40,373.48 634.58,373.49 635.76,373.49 C636.93,373.49 638.10,373.48 639.27,373.47 C640.44,373.46 641.61,373.45 642.78,373.44 C643.95,373.43 645.12,373.42 646.30,373.42 C647.47,373.41 648.65,373.41 649.83,373.42 C651.01,373.43 652.20,373.44 653.39,373.46 C654.57,373.47 655.76,373.49 656.94,373.51 C658.13,373.52 659.31,373.53 660.49,373.53 C661.67,373.53 663.41,373.50 664.00,373.50" fill="none" stroke="#ff0000" stroke-width="2.15" stroke-dasharray="8.5 10.2" stroke-linecap="round" stroke-dashoffset="3.66" clip-path="url(#cb)"/>
<path d="M418.00,373.50 C418.59,373.51 420.38,373.55 421.56,373.56 C422.75,373.57 423.92,373.57 425.10,373.57 C426.27,373.56 427.44,373.55 428.61,373.53 C429.78,373.51 430.94,373.49 432.11,373.47 C433.27,373.45 434.44,373.43 435.60,373.41 C436.77,373.39 437.94,373.37 439.11,373.36 C440.27,373.35 441.44,373.34 442.62,373.34 C443.80,373.34 444.97,373.34 446.16,373.36 C447.34,373.38 448.53,373.41 449.73,373.45 C450.92,373.49 452.13,373.56 453.33,373.59 C454.52,373.62 455.73,373.66 456.90,373.62 C458.08,373.57 459.25,373.51 460.39,373.32 C461.53,373.14 462.64,372.88 463.72,372.50 C464.80,372.11 465.82,371.56 466.85,371.02 C467.88,370.48 468.88,369.84 469.90,369.25 C470.91,368.65 471.93,368.05 472.95,367.45 C473.96,366.86 474.98,366.26 476.00,365.66 C477.01,365.06 478.03,364.46 479.04,363.86 C480.05,363.25 481.07,362.65 482.07,362.04 C483.08,361.43 484.09,360.81 485.09,360.19 C486.09,359.57 487.09,358.94 488.08,358.31 C489.07,357.68 490.06,357.04 491.04,356.39 C492.02,355.74 493.00,355.09 493.96,354.42 C494.93,353.76 495.89,353.09 496.84,352.40 C497.79,351.71 498.73,351.02 499.67,350.31 C500.60,349.60 501.52,348.89 502.44,348.15 C503.35,347.42 504.25,346.68 505.14,345.92 C506.03,345.16 506.91,344.38 507.78,343.59 C508.64,342.80 509.50,342.00 510.34,341.18 C511.19,340.37 512.02,339.54 512.85,338.71 C513.69,337.87 514.51,337.03 515.34,336.19 C516.16,335.35 516.98,334.50 517.81,333.66 C518.63,332.82 519.46,331.97 520.29,331.13 C521.12,330.30 521.96,329.47 522.80,328.64 C523.64,327.81 524.49,327.00 525.32,326.17 C526.15,325.33 526.98,324.51 527.77,323.64 C528.56,322.78 529.34,321.91 530.06,321.00 C530.78,320.08 531.46,319.13 532.11,318.16 C532.76,317.19 533.35,316.17 533.97,315.17 C534.59,314.17 535.19,313.16 535.80,312.15 C536.42,311.15 537.04,310.15 537.66,309.14 C538.28,308.14 538.90,307.14 539.52,306.14 C540.13,305.13 540.74,304.13 541.35,303.12 C541.95,302.10 542.55,301.09 543.13,300.07 C543.71,299.05 544.28,298.03 544.84,296.99 C545.39,295.96 545.93,294.92 546.45,293.87 C546.97,292.82 547.48,291.76 547.97,290.70 C548.46,289.64 548.94,288.57 549.41,287.49 C549.87,286.42 550.33,285.33 550.77,284.25 C551.21,283.16 551.65,282.07 552.07,280.98 C552.50,279.88 552.91,278.78 553.32,277.68 C553.73,276.58 554.13,275.48 554.53,274.37 C554.93,273.27 555.33,272.16 555.72,271.05 C556.11,269.94 556.50,268.83 556.88,267.72 C557.27,266.61 557.65,265.50 558.03,264.39 C558.41,263.27 558.79,262.16 559.16,261.05 C559.53,259.93 559.90,258.82 560.27,257.70 C560.64,256.58 561.01,255.47 561.37,254.35 C561.73,253.23 562.09,252.11 562.45,250.99 C562.81,249.87 563.16,248.75 563.51,247.63 C563.86,246.51 564.21,245.39 564.56,244.26 C564.90,243.14 565.25,242.02 565.59,240.89 C565.93,239.77 566.27,238.64 566.60,237.52 C566.94,236.39 567.27,235.26 567.60,234.13 C567.93,233.01 568.26,231.88 568.58,230.75 C568.91,229.62 569.23,228.49 569.55,227.36 C569.87,226.23 570.18,225.10 570.50,223.97 C570.81,222.83 571.12,221.70 571.43,220.57 C571.74,219.43 572.05,218.30 572.35,217.17 C572.66,216.03 572.96,214.89 573.26,213.76 C573.55,212.62 573.85,211.49 574.14,210.35 C574.44,209.21 574.73,208.07 575.02,206.94 C575.31,205.80 575.59,204.66 575.88,203.52 C576.16,202.38 576.44,201.24 576.72,200.10 C577.00,198.96 577.27,197.82 577.55,196.67 C577.82,195.53 578.09,194.39 578.36,193.25 C578.63,192.10 578.90,190.96 579.16,189.82 C579.43,188.67 579.69,187.53 579.95,186.38 C580.21,185.24 580.47,184.10 580.73,182.95 C581.00,181.81 581.26,180.66 581.52,179.52 C581.79,178.37 582.05,177.23 582.32,176.09 C582.59,174.95 582.87,173.80 583.14,172.66 C583.42,171.52 583.70,170.38 583.99,169.24 C584.28,168.10 584.57,166.97 584.87,165.83 C585.17,164.69 585.47,163.56 585.78,162.43 C586.09,161.30 586.41,160.17 586.73,159.04 C587.06,157.91 587.39,156.78 587.73,155.66 C588.06,154.54 588.41,153.42 588.76,152.30 C589.11,151.18 589.47,150.06 589.81,148.94 C590.16,147.82 590.51,146.70 590.85,145.58 C591.19,144.46 591.52,143.33 591.84,142.20 C592.15,141.08 592.46,139.94 592.74,138.81 C593.03,137.67 593.30,136.53 593.54,135.37 C593.78,134.22 593.99,133.06 594.18,131.90 C594.37,130.73 594.49,129.55 594.68,128.38 C594.87,127.21 595.01,126.03 595.31,124.89 C595.60,123.75 595.92,122.61 596.44,121.54 C596.96,120.47 597.72,119.16 598.45,118.49 C599.18,117.82 600.18,117.25 600.82,117.53 C601.46,117.81 601.81,119.16 602.28,120.19 C602.76,121.22 603.15,122.61 603.68,123.70 C604.21,124.80 604.91,125.74 605.47,126.77 C606.02,127.81 606.55,128.84 607.03,129.90 C607.51,130.96 607.94,132.04 608.34,133.13 C608.74,134.22 609.10,135.33 609.43,136.45 C609.76,137.56 610.06,138.69 610.33,139.83 C610.61,140.97 610.85,142.12 611.08,143.27 C611.30,144.42 611.51,145.59 611.70,146.75 C611.89,147.91 612.06,149.08 612.23,150.24 C612.40,151.41 612.55,152.58 612.70,153.74 C612.85,154.91 612.98,156.08 613.11,157.25 C613.24,158.42 613.37,159.59 613.48,160.75 C613.60,161.92 613.71,163.09 613.81,164.26 C613.91,165.44 614.01,166.61 614.10,167.78 C614.19,168.95 614.27,170.12 614.36,171.29 C614.44,172.46 614.51,173.63 614.59,174.81 C614.66,175.98 614.73,177.15 614.80,178.32 C614.87,179.50 614.94,180.67 615.01,181.84 C615.07,183.02 615.14,184.19 615.20,185.36 C615.26,186.53 615.33,187.71 615.39,188.88 C615.46,190.05 615.52,191.23 615.59,192.40 C615.66,193.57 615.72,194.74 615.79,195.92 C615.86,197.09 615.93,198.26 615.99,199.44 C616.06,200.61 616.13,201.78 616.20,202.96 C616.27,204.13 616.34,205.30 616.41,206.47 C616.48,207.65 616.55,208.82 616.62,209.99 C616.68,211.17 616.75,212.34 616.82,213.51 C616.89,214.69 616.96,215.86 617.03,217.03 C617.10,218.20 617.17,219.38 617.23,220.55 C617.30,221.72 617.37,222.90 617.43,224.07 C617.50,225.24 617.56,226.42 617.63,227.59 C617.69,228.76 617.76,229.94 617.82,231.11 C617.88,232.28 617.94,233.46 618.00,234.63 C618.06,235.80 618.12,236.98 618.18,238.15 C618.24,239.33 618.30,240.50 618.35,241.67 C618.41,242.85 618.46,244.02 618.51,245.19 C618.57,246.37 618.62,247.54 618.67,248.72 C618.72,249.89 618.77,251.06 618.82,252.24 C618.86,253.41 618.91,254.59 618.96,255.76 C619.01,256.93 619.06,258.11 619.10,259.28 C619.15,260.46 619.20,261.63 619.24,262.81 C619.29,263.98 619.34,265.15 619.38,266.33 C619.43,267.50 619.48,268.68 619.52,269.85 C619.57,271.02 619.62,272.20 619.66,273.37 C619.71,274.55 619.76,275.72 619.81,276.89 C619.86,278.07 619.91,279.24 619.96,280.42 C620.01,281.59 620.06,282.76 620.12,283.94 C620.17,285.11 620.22,286.28 620.28,287.46 C620.34,288.63 620.39,289.81 620.45,290.98 C620.51,292.15 620.57,293.33 620.63,294.50 C620.69,295.67 620.76,296.84 620.82,298.02 C620.89,299.19 620.96,300.36 621.03,301.54 C621.10,302.71 621.17,303.88 621.25,305.05 C621.32,306.23 621.40,307.40 621.48,308.57 C621.56,309.74 621.64,310.91 621.73,312.09 C621.81,313.26 621.90,314.43 621.99,315.60 C622.08,316.77 622.18,317.94 622.28,319.11 C622.37,320.29 622.47,321.46 622.58,322.63 C622.68,323.80 622.79,324.97 622.90,326.14 C623.02,327.31 623.13,328.48 623.25,329.65 C623.37,330.82 623.49,331.99 623.62,333.16 C623.74,334.33 623.87,335.49 624.01,336.66 C624.14,337.83 624.28,339.00 624.42,340.16 C624.56,341.33 624.70,342.50 624.85,343.66 C624.99,344.83 625.14,345.99 625.30,347.16 C625.45,348.32 625.61,349.48 625.79,350.64 C625.96,351.80 626.15,352.96 626.36,354.11 C626.58,355.26 626.80,356.41 627.07,357.55 C627.34,358.69 627.63,359.83 627.97,360.96 C628.30,362.08 628.66,363.21 629.09,364.31 C629.52,365.41 629.93,366.58 630.55,367.55 C631.17,368.53 631.92,369.45 632.81,370.17 C633.70,370.89 634.82,371.44 635.90,371.88 C636.99,372.33 638.17,372.61 639.32,372.84 C640.48,373.07 641.66,373.16 642.84,373.26 C644.02,373.36 645.20,373.38 646.38,373.41 C647.56,373.45 648.73,373.46 649.91,373.47 C651.08,373.48 652.26,373.47 653.43,373.47 C654.60,373.46 655.77,373.45 656.94,373.45 C658.12,373.44 659.29,373.44 660.47,373.45 C661.64,373.45 663.41,373.49 664.00,373.50" fill="none" stroke="#0000ff" stroke-width="2.15" stroke-dasharray="4 4.4" stroke-linecap="round" stroke-dashoffset="1.33" clip-path="url(#cb)"/>
<path d="M418.00,373.50 C418.59,373.50 420.33,373.48 421.51,373.47 C422.69,373.47 423.89,373.47 425.08,373.46 C426.27,373.46 427.46,373.46 428.64,373.46 C429.82,373.45 430.98,373.44 432.14,373.43 C433.31,373.42 434.45,373.41 435.63,373.39 C436.82,373.37 438.04,373.38 439.25,373.30 C440.46,373.22 441.72,373.16 442.88,372.93 C444.05,372.69 445.21,372.37 446.25,371.88 C447.29,371.39 448.27,370.73 449.13,369.98 C449.99,369.23 450.77,368.32 451.42,367.37 C452.08,366.42 452.61,365.35 453.05,364.26 C453.50,363.18 453.79,362.00 454.10,360.86 C454.41,359.72 454.67,358.55 454.93,357.39 C455.18,356.24 455.41,355.08 455.63,353.92 C455.85,352.76 456.05,351.60 456.24,350.44 C456.43,349.27 456.60,348.11 456.77,346.94 C456.93,345.78 457.08,344.61 457.23,343.44 C457.38,342.28 457.51,341.11 457.65,339.94 C457.78,338.77 457.91,337.60 458.04,336.43 C458.17,335.26 458.29,334.08 458.41,332.91 C458.54,331.74 458.65,330.57 458.77,329.39 C458.88,328.22 458.99,327.05 459.10,325.87 C459.21,324.70 459.32,323.52 459.42,322.35 C459.52,321.17 459.62,320.00 459.72,318.82 C459.81,317.64 459.91,316.47 460.00,315.29 C460.09,314.12 460.18,312.94 460.26,311.76 C460.35,310.59 460.43,309.41 460.51,308.23 C460.59,307.06 460.67,305.88 460.75,304.70 C460.82,303.53 460.90,302.35 460.97,301.17 C461.04,300.00 461.11,298.82 461.18,297.64 C461.24,296.47 461.31,295.29 461.37,294.11 C461.44,292.93 461.50,291.76 461.56,290.58 C461.62,289.40 461.68,288.22 461.74,287.05 C461.80,285.87 461.86,284.69 461.91,283.51 C461.97,282.33 462.02,281.16 462.08,279.98 C462.13,278.80 462.18,277.62 462.23,276.45 C462.29,275.27 462.34,274.09 462.39,272.91 C462.44,271.73 462.49,270.55 462.53,269.38 C462.58,268.20 462.63,267.02 462.68,265.84 C462.73,264.66 462.78,263.49 462.82,262.31 C462.87,261.13 462.92,259.95 462.97,258.77 C463.01,257.59 463.06,256.42 463.11,255.24 C463.15,254.06 463.20,252.88 463.25,251.70 C463.30,250.53 463.35,249.35 463.40,248.17 C463.44,246.99 463.49,245.81 463.54,244.63 C463.59,243.46 463.64,242.28 463.70,241.10 C463.75,239.92 463.80,238.74 463.85,237.57 C463.91,236.39 463.96,235.21 464.02,234.03 C464.07,232.86 464.13,231.68 464.19,230.50 C464.25,229.32 464.30,228.15 464.36,226.97 C464.43,225.79 464.49,224.61 464.55,223.44 C464.61,222.26 464.68,221.08 464.74,219.90 C464.80,218.73 464.87,217.55 464.94,216.37 C465.00,215.20 465.07,214.02 465.14,212.84 C465.21,211.66 465.28,210.49 465.35,209.31 C465.42,208.13 465.49,206.96 465.56,205.78 C465.63,204.60 465.70,203.43 465.77,202.25 C465.84,201.07 465.92,199.89 465.99,198.72 C466.06,197.54 466.14,196.36 466.21,195.19 C466.29,194.01 466.36,192.83 466.44,191.66 C466.51,190.48 466.59,189.30 466.66,188.12 C466.74,186.95 466.81,185.77 466.89,184.59 C466.97,183.42 467.04,182.24 467.12,181.06 C467.19,179.88 467.27,178.71 467.35,177.53 C467.42,176.35 467.50,175.18 467.58,174.00 C467.65,172.82 467.73,171.64 467.81,170.47 C467.88,169.29 467.96,168.11 468.05,166.94 C468.13,165.76 468.22,164.58 468.31,163.41 C468.40,162.23 468.50,161.06 468.61,159.88 C468.72,158.71 468.83,157.54 468.96,156.37 C469.08,155.20 469.22,154.03 469.37,152.86 C469.52,151.69 469.68,150.52 469.85,149.36 C470.03,148.19 470.22,147.03 470.42,145.87 C470.63,144.71 470.85,143.55 471.09,142.40 C471.34,141.24 471.59,140.09 471.88,138.94 C472.17,137.80 472.48,136.65 472.83,135.53 C473.18,134.41 473.56,133.29 473.99,132.21 C474.43,131.12 474.92,130.06 475.43,129.01 C475.95,127.96 476.57,126.96 477.08,125.91 C477.60,124.87 478.13,123.83 478.51,122.72 C478.90,121.61 478.73,120.01 479.38,119.25 C480.02,118.49 481.49,117.94 482.39,118.17 C483.30,118.39 484.17,119.67 484.82,120.59 C485.46,121.50 485.87,122.57 486.24,123.65 C486.61,124.73 486.82,125.91 487.05,127.08 C487.27,128.25 487.41,129.47 487.60,130.66 C487.80,131.86 488.00,133.05 488.23,134.22 C488.46,135.40 488.72,136.56 488.99,137.72 C489.27,138.87 489.57,140.01 489.87,141.15 C490.18,142.29 490.51,143.42 490.84,144.55 C491.17,145.67 491.51,146.80 491.86,147.91 C492.21,149.03 492.56,150.15 492.91,151.27 C493.26,152.38 493.62,153.50 493.97,154.62 C494.32,155.74 494.66,156.85 495.00,157.98 C495.33,159.10 495.66,160.23 495.98,161.36 C496.30,162.50 496.60,163.63 496.90,164.78 C497.19,165.92 497.48,167.06 497.76,168.21 C498.05,169.36 498.32,170.51 498.60,171.66 C498.87,172.81 499.14,173.96 499.40,175.12 C499.67,176.27 499.93,177.42 500.20,178.57 C500.47,179.72 500.73,180.87 501.00,182.02 C501.26,183.17 501.53,184.32 501.80,185.46 C502.07,186.61 502.34,187.76 502.61,188.90 C502.88,190.05 503.15,191.19 503.42,192.34 C503.69,193.48 503.97,194.62 504.25,195.77 C504.52,196.91 504.80,198.05 505.08,199.20 C505.36,200.34 505.65,201.48 505.93,202.63 C506.22,203.77 506.50,204.91 506.79,206.05 C507.08,207.20 507.37,208.34 507.67,209.48 C507.96,210.62 508.25,211.76 508.55,212.90 C508.85,214.04 509.15,215.18 509.45,216.32 C509.75,217.46 510.06,218.60 510.37,219.74 C510.67,220.88 510.98,222.01 511.29,223.15 C511.61,224.29 511.92,225.43 512.24,226.56 C512.56,227.70 512.88,228.83 513.20,229.97 C513.52,231.10 513.84,232.24 514.17,233.37 C514.50,234.50 514.83,235.64 515.16,236.77 C515.50,237.90 515.83,239.03 516.17,240.16 C516.51,241.29 516.85,242.42 517.20,243.55 C517.54,244.68 517.89,245.80 518.24,246.93 C518.59,248.06 518.94,249.18 519.30,250.31 C519.66,251.43 520.02,252.55 520.38,253.68 C520.74,254.80 521.11,255.92 521.48,257.04 C521.85,258.16 522.22,259.28 522.59,260.40 C522.97,261.51 523.35,262.63 523.73,263.75 C524.11,264.86 524.50,265.98 524.89,267.09 C525.28,268.20 525.67,269.31 526.07,270.42 C526.46,271.54 526.86,272.64 527.27,273.75 C527.67,274.86 528.08,275.97 528.49,277.07 C528.91,278.17 529.33,279.27 529.76,280.37 C530.18,281.47 530.62,282.56 531.06,283.65 C531.51,284.74 531.96,285.83 532.42,286.91 C532.89,287.99 533.36,289.07 533.84,290.14 C534.33,291.21 534.82,292.28 535.33,293.34 C535.84,294.40 536.36,295.45 536.90,296.50 C537.43,297.55 537.98,298.59 538.55,299.62 C539.11,300.66 539.70,301.68 540.29,302.70 C540.89,303.72 541.51,304.73 542.13,305.74 C542.75,306.74 543.39,307.74 544.02,308.74 C544.66,309.74 545.30,310.73 545.94,311.73 C546.57,312.73 547.21,313.72 547.84,314.72 C548.47,315.71 549.09,316.71 549.74,317.69 C550.39,318.66 551.05,319.63 551.76,320.56 C552.46,321.50 553.20,322.40 553.96,323.29 C554.72,324.19 555.51,325.05 556.32,325.91 C557.12,326.77 557.95,327.61 558.78,328.44 C559.62,329.28 560.47,330.10 561.32,330.93 C562.17,331.75 563.03,332.57 563.88,333.39 C564.73,334.22 565.58,335.05 566.42,335.88 C567.27,336.70 568.10,337.54 568.95,338.37 C569.79,339.20 570.62,340.03 571.47,340.85 C572.32,341.68 573.16,342.50 574.02,343.30 C574.87,344.11 575.73,344.91 576.61,345.69 C577.49,346.48 578.37,347.25 579.27,348.00 C580.17,348.75 581.09,349.49 582.02,350.20 C582.95,350.92 583.90,351.61 584.86,352.30 C585.82,352.98 586.79,353.64 587.77,354.30 C588.75,354.95 589.75,355.59 590.74,356.23 C591.74,356.87 592.75,357.49 593.75,358.12 C594.76,358.74 595.77,359.36 596.78,359.98 C597.79,360.60 598.80,361.21 599.81,361.83 C600.81,362.45 601.82,363.08 602.81,363.71 C603.81,364.33 604.80,364.97 605.80,365.60 C606.80,366.22 607.79,366.86 608.79,367.47 C609.80,368.08 610.81,368.68 611.83,369.26 C612.86,369.84 613.90,370.42 614.96,370.92 C616.02,371.43 617.10,371.91 618.20,372.29 C619.29,372.66 620.42,372.94 621.55,373.17 C622.68,373.39 623.84,373.52 625.00,373.61 C626.17,373.71 627.35,373.73 628.53,373.74 C629.71,373.75 630.91,373.70 632.10,373.66 C633.30,373.61 634.50,373.53 635.69,373.47 C636.89,373.41 638.09,373.34 639.28,373.30 C640.47,373.27 641.65,373.25 642.83,373.25 C644.01,373.25 645.18,373.27 646.35,373.30 C647.53,373.33 648.69,373.38 649.86,373.42 C651.03,373.46 652.20,373.51 653.37,373.54 C654.54,373.58 655.71,373.62 656.88,373.63 C658.06,373.65 659.24,373.66 660.42,373.63 C661.61,373.61 663.40,373.52 664.00,373.50" fill="none" stroke="#ff0000" stroke-width="2.15" stroke-dasharray="4 4.4" stroke-linecap="round" stroke-dashoffset="8.05" clip-path="url(#cb)"/>
<path d="M440.10,32.70 H472.00" stroke="#0000ff" stroke-width="2.15" fill="none"/>
<path d="M440.10,49.50 H472.00" stroke="#ff0000" stroke-width="2.15" fill="none"/>
<path d="M441.10,68.00 H472.00" stroke="#0000ff" stroke-width="2.15" fill="none" stroke-dasharray="8.5 10.2" stroke-linecap="round"/>
<path d="M441.10,84.60 H472.00" stroke="#ff0000" stroke-width="2.15" fill="none" stroke-dasharray="8.5 10.2" stroke-linecap="round"/>
<path d="M441.10,103.70 H472.00" stroke="#0000ff" stroke-width="2.15" fill="none" stroke-dasharray="4 4.4" stroke-linecap="round"/>
<path d="M441.10,120.70 H472.00" stroke="#ff0000" stroke-width="2.15" fill="none" stroke-dasharray="4 4.4" stroke-linecap="round"/>
<text x="474.6" y="37.40" font-family="Liberation Sans, sans-serif" font-size="13.5" class="lg">E=9 meV</text>
<path d="M530.80,34.50 H542.10 M538.40,31.30 L542.10,34.50 L538.40,37.70" stroke="#000" stroke-width="0.95" fill="none"/>
<text x="541.85" y="37.40" font-family="Liberation Sans, sans-serif" font-size="13.5" class="lg">n=1</text>
<path d="M566.50,32.60 l4.4,4.4 M566.50,37.00 l4.4,-4.4" stroke="#333" stroke-width="0.85" fill="none"/>
<text x="572.67" y="37.40" font-family="Liberation Sans, sans-serif" font-size="13.5" class="lg">10<tspan dy="-4.7" font-size="9.5">11</tspan><tspan dy="4.7">cm</tspan><tspan dy="-4.7" font-size="9.5">-2</tspan></text>
<text x="474.6" y="73.40" font-family="Liberation Sans, sans-serif" font-size="13.5" class="lg">E=16.5 meV</text>
<path d="M549.50,70.50 H560.70 M557.00,67.30 L560.70,70.50 L557.00,73.70" stroke="#000" stroke-width="0.95" fill="none"/>
<text x="560.73" y="73.40" font-family="Liberation Sans, sans-serif" font-size="13.5" class="lg">2</text>
<path d="M570.00,68.60 l4.4,4.4 M570.00,73.00 l4.4,-4.4" stroke="#333" stroke-width="0.85" fill="none"/>
<text x="575.77" y="73.40" font-family="Liberation Sans, sans-serif" font-size="13.5" class="lg">10<tspan dy="-4.7" font-size="9.5">11</tspan><tspan dy="4.7">cm</tspan><tspan dy="-4.7" font-size="9.5">-2</tspan></text>
<text x="474.6" y="108.80" font-family="Liberation Sans, sans-serif" font-size="13.5" class="lg">E=24.2 meV</text>
<path d="M549.50,105.90 H560.70 M557.00,102.70 L560.70,105.90 L557.00,109.10" stroke="#000" stroke-width="0.95" fill="none"/>
<text x="560.89" y="108.80" font-family="Liberation Sans, sans-serif" font-size="13.5" class="lg">3</text>
<path d="M570.00,104.00 l4.4,4.4 M570.00,108.40 l4.4,-4.4" stroke="#333" stroke-width="0.85" fill="none"/>
<text x="575.77" y="108.80" font-family="Liberation Sans, sans-serif" font-size="13.5" class="lg">10<tspan dy="-4.7" font-size="9.5">11</tspan><tspan dy="4.7">cm</tspan><tspan dy="-4.7" font-size="9.5">-2</tspan></text>
<path d="M442.45,373.60 v-7.50 M442.45,14.60 v7.50" stroke="#000" stroke-width="1.60" fill="none"/>
<path d="M491.75,373.60 v-7.50 M491.75,14.60 v7.50" stroke="#000" stroke-width="1.60" fill="none"/>
<path d="M541.05,373.60 v-7.50 M541.05,14.60 v7.50" stroke="#000" stroke-width="1.60" fill="none"/>
<path d="M590.35,373.60 v-7.50 M590.35,14.60 v7.50" stroke="#000" stroke-width="1.60" fill="none"/>
<path d="M639.65,373.60 v-7.50 M639.65,14.60 v7.50" stroke="#000" stroke-width="1.60" fill="none"/>
<path d="M467.10,373.60 v-4.20 M467.10,14.60 v4.20" stroke="#000" stroke-width="1.60" fill="none"/>
<path d="M516.40,373.60 v-4.20 M516.40,14.60 v4.20" stroke="#000" stroke-width="1.60" fill="none"/>
<path d="M565.70,373.60 v-4.20 M565.70,14.60 v4.20" stroke="#000" stroke-width="1.60" fill="none"/>
<path d="M615.00,373.60 v-4.20 M615.00,14.60 v4.20" stroke="#000" stroke-width="1.60" fill="none"/>
<path d="M417.80,210.95 h7.50 M664.40,210.95 h-7.50" stroke="#000" stroke-width="1.60" fill="none"/>
<path d="M417.80,47.50 h7.50 M664.40,47.50 h-7.50" stroke="#000" stroke-width="1.60" fill="none"/>
<path d="M417.80,292.08 h4.20 M664.40,292.08 h-4.20" stroke="#000" stroke-width="1.60" fill="none"/>
<path d="M417.80,129.03 h4.20 M664.40,129.03 h-4.20" stroke="#000" stroke-width="1.60" fill="none"/>
<rect x="417.80" y="14.60" width="246.60" height="359.00" fill="none" stroke="#000" stroke-width="1.60"/>
<text x="441.85" y="398.3" text-anchor="middle" font-family="Liberation Sans, sans-serif" font-size="20">-20</text>
<text x="491.15" y="398.3" text-anchor="middle" font-family="Liberation Sans, sans-serif" font-size="20">-10</text>
<text x="541.05" y="398.3" text-anchor="middle" font-family="Liberation Sans, sans-serif" font-size="20">0</text>
<text x="590.35" y="398.3" text-anchor="middle" font-family="Liberation Sans, sans-serif" font-size="20">10</text>
<text x="639.65" y="398.3" text-anchor="middle" font-family="Liberation Sans, sans-serif" font-size="20">20</text>
<text x="408.9" y="380.30" text-anchor="end" font-family="Liberation Sans, sans-serif" font-size="20">0.00</text>
<text x="408.9" y="217.05" text-anchor="end" font-family="Liberation Sans, sans-serif" font-size="20">0.05</text>
<text x="408.9" y="53.20" text-anchor="end" font-family="Liberation Sans, sans-serif" font-size="20">0.10</text>
<text x="491.8" y="429.5" font-family="Liberation Sans, sans-serif" font-size="24">z (nm)</text>
<g transform="translate(355.9,233.4) rotate(-90)">
<text x="0.4" y="0" font-family="Liberation Sans, sans-serif" font-size="21.6">|</text>
<text x="5.7" y="0" font-family="Liberation Serif, serif" font-size="22">&#936;</text>
<text x="22.1" y="0" font-family="Liberation Sans, sans-serif" font-size="21.6">|</text>
<text x="26.5" y="-10.4" font-family="Liberation Sans, sans-serif" font-size="15">2</text>
<text x="41.6" y="0" font-family="Liberation Sans, sans-serif" font-size="24">(nm<tspan dy="-11" font-size="14.5">-1</tspan><tspan dy="11">)</tspan></text>
</g>
<text x="619.0" y="50.5" font-family="Liberation Sans, sans-serif" font-size="29.6" letter-spacing="0.5">(b)</text>
</g>
</svg>
</body></html>
